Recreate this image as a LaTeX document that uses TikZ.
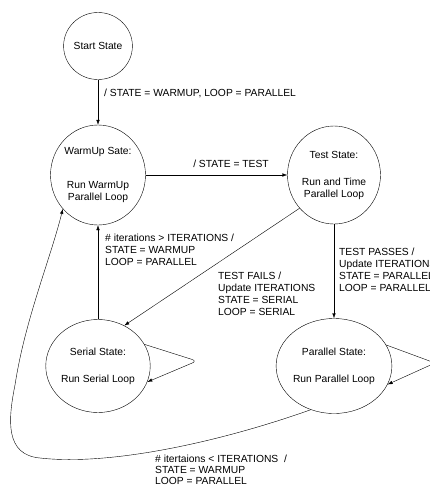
\documentclass[tikz,border=0pt]{standalone}
\usepackage{fontspec}
\setmainfont{Liberation Sans}
\usepackage{tikz}
\usetikzlibrary{shapes.geometric,arrows.meta}

\tikzset{
  state/.style={draw, ellipse, inner sep=0pt, align=center},
  lbl/.style={anchor=west, inner sep=0pt, align=left},
  trans/.style={-{Latex[length=5pt,width=3.5pt]}},
}

\begin{document}
\begin{tikzpicture}[x=1pt, y=-1pt, font=\fontsize{10.3}{12}\selectfont]
    \useasboundingbox (0,0) rectangle (430,488);
    \clip (0,0) rectangle (430,488);
    % states
    \node[state, minimum width=62pt, minimum height=67pt] (start) at (98,46) {Start State};
    \node[state, minimum width=91pt, minimum height=100pt] (warm) at (98,175)
      {WarmUp Sate:\\[22pt]Run WarmUp\\Parallel Loop};
    \node[state, minimum width=93pt, minimum height=98pt] (test) at (334,175)
      {Test State:\\[15pt]Run and Time\\Parallel Loop};
    \node[state, minimum width=94pt, minimum height=93pt] (serial) at (98,366)
      {Serial State:\\[15pt]Run Serial Loop};
    \node[state, minimum width=93pt, minimum height=95pt] (par) at (334,366)
      {Parallel State:\\[15pt]Run Parallel Loop};
    % transitions
    \draw[trans] (start) -- (warm);
    \node[lbl] (l1) at (104,93) {/ STATE = WARMUP, LOOP = PARALLEL};
    \draw[trans] (warm) -- (test);
    \node (l2) at (231,164) {/ STATE = TEST};
    \draw[trans] (test.224) -- (serial.57);
    \node[lbl] (l3) at (218,294) {TEST FAILS /\\Update ITERATIONS\\STATE = SERIAL\\LOOP = SERIAL};
    \draw[trans] (serial) -- (warm);
    \node[lbl] (l4) at (105,250) {\# iterations > ITERATIONS /\\STATE = WARMUP\\LOOP = PARALLEL};
    \draw[trans] (test) -- (par);
    \node[lbl] (l5) at (339,270) {TEST PASSES /\\Update ITERATIONS\\STATE = PARALLEL\\LOOP = PARALLEL};
    \draw[trans, rounded corners=5pt] (serial.25) -- (197,361) -- (serial.-18);
    \draw[trans, rounded corners=5pt] (par.22) -- (435,363) -- (par.-19);
    \draw[trans] (par.242) .. controls (220,442) and (110,466) .. (40,458)
      .. controls (5,455) and (8,420) .. (15,385)
      .. controls (25,320) and (50,260) .. (warm.224);
    \node[lbl, font=\fontsize{10.3}{11}\selectfont] (l6) at (155,470)
      {\# itertaions < ITERATIONS\ \ /\\STATE = WARMUP\\LOOP = PARALLEL};
\end{tikzpicture}
\end{document}
